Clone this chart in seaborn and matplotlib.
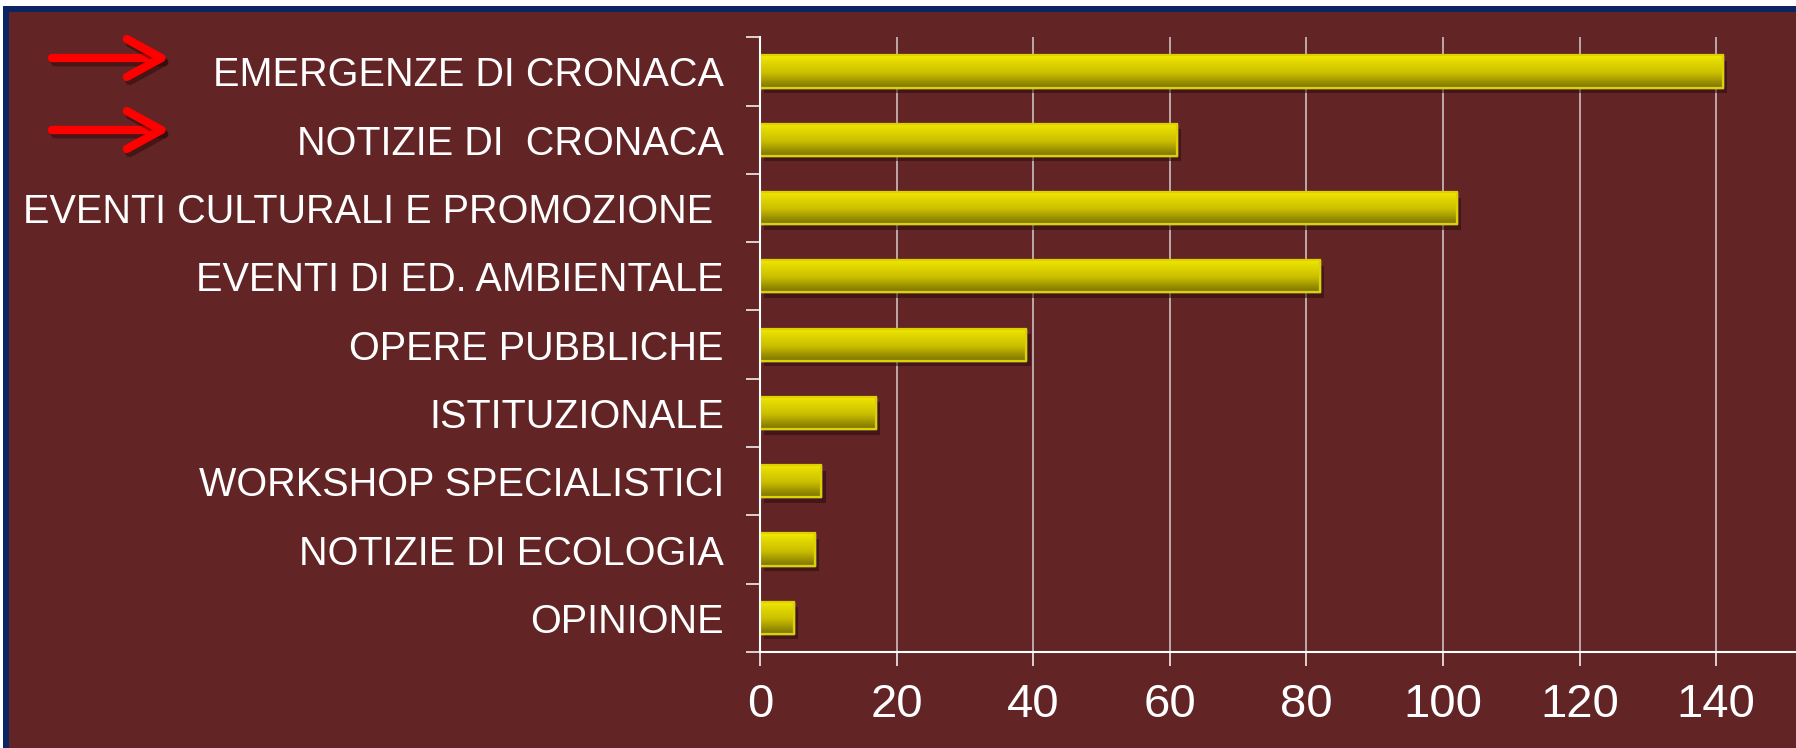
import numpy as np
import seaborn as sns
import pandas as pd
import matplotlib.pyplot as plt
import matplotlib.patheffects as pe
from matplotlib.colors import LinearSegmentedColormap
from matplotlib.patches import Rectangle, FancyArrowPatch

# data
categories = ["EMERGENZE DI CRONACA", "NOTIZIE DI  CRONACA",
              "EVENTI CULTURALI E PROMOZIONE ", "EVENTI DI ED. AMBIENTALE",
              "OPERE PUBBLICHE", "ISTITUZIONALE", "WORKSHOP SPECIALISTICI",
              "NOTIZIE DI ECOLOGIA", "OPINIONE"]
counts = [141, 61, 102, 82, 39, 17, 9, 8, 5]
x_ticks = [0, 20, 40, 60, 80, 100, 120, 140]

bg = "#632425"
navy = "#0c2461"

sns.set_style("white", {"axes.facecolor": bg})
plt.rcParams['font.family'] = ['Liberation Sans', 'DejaVu Sans']

W, H = 1796, 748
fig = plt.figure(figsize=(W / 100, H / 100), dpi=100, facecolor="white")

# frame: navy border top/left, maroon inside
fig.patches.append(Rectangle((3 / W, 0), 1, 1 - 6 / H, transform=fig.transFigure,
                             facecolor=navy, edgecolor="none", zorder=-3))
fig.patches.append(Rectangle((9 / W, 0), 1, 1 - 12 / H, transform=fig.transFigure,
                             facecolor=bg, edgecolor="none", zorder=-2))

ax = fig.add_axes([760 / W, 1 - 652 / H, 1 - 760 / W, (652 - 37.3) / H])
ax.set_facecolor(bg)

df = pd.DataFrame({"cat": categories, "n": counts})
sns.barplot(data=df, y="cat", x="n", orient="h", color="#d2c600",
            width=0.47, ax=ax, saturation=1)

grad = LinearSegmentedColormap.from_list(
    "bar", [(0, "#f3eb00"), (0.15, "#e6dc00"), (0.55, "#cabe00"), (1, "#7c7300")])
g = np.linspace(0, 1, 64).reshape(-1, 1)
for p in list(ax.patches):
    x0, y0 = p.get_x(), p.get_y()
    w, h = p.get_width(), p.get_height()
    p.set_path_effects([pe.SimplePatchShadow(offset=(3, -4), shadow_rgbFace="#2a0c0c",
                                             alpha=0.55), pe.Normal()])
    im = ax.imshow(g, cmap=grad, aspect="auto", extent=(x0, x0 + w, y0 + h, y0),
                   origin="upper", zorder=p.get_zorder() + 0.1, interpolation="bilinear")
    im.set_clip_path(p)
    ax.add_patch(Rectangle((x0, y0), w, h, facecolor="none", edgecolor="#ddd100",
                           lw=1.6, zorder=p.get_zorder() + 0.2))

ax.set_xlim(0, 151.7)
ax.set_ylim(len(categories) - 0.5, -0.5)
ax.set_xticks(x_ticks)
ax.set_xticklabels([str(v) for v in x_ticks], fontsize=34, color="white")
ax.set_yticks(np.arange(-0.5, len(categories), 1))
ax.set_yticklabels([])
ax.set_yticks(range(len(categories)), labels=categories, minor=True)
ax.tick_params(axis="y", which="minor", length=0, pad=26, labelsize=28.5, labelcolor="white")
ax.tick_params(axis="y", which="major", length=10, width=1.1, color="white", direction="out", left=True)
ax.tick_params(axis="x", length=10, width=1.1, color="white", direction="out", pad=12, bottom=True)
ax.set_xlabel("")
ax.set_ylabel("")

ax.grid(axis="x", color="#d6cccc", lw=1.1)
ax.grid(axis="y", visible=False)
ax.set_axisbelow(True)
for s in ["top", "right"]:
    ax.spines[s].set_visible(False)
for s in ["left", "bottom"]:
    ax.spines[s].set_color("white")
    ax.spines[s].set_linewidth(1.5)

# red arrows pointing at the two "cronaca" rows
for y in [58, 130]:
    arr = FancyArrowPatch((52 / W, 1 - y / H), (170 / W, 1 - y / H),
                          transform=fig.transFigure, shrinkA=0, shrinkB=0,
                          arrowstyle="->,head_length=0.62,head_width=0.34",
                          mutation_scale=40, lw=6, color="#ff0000",
                          capstyle="round", joinstyle="round")
    arr.set_path_effects([pe.SimpleLineShadow(offset=(2, -3), shadow_color="#2a0808", alpha=0.5),
                          pe.Normal()])
    fig.patches.append(arr)

fig.savefig("out.png", dpi=100, facecolor=fig.get_facecolor())
